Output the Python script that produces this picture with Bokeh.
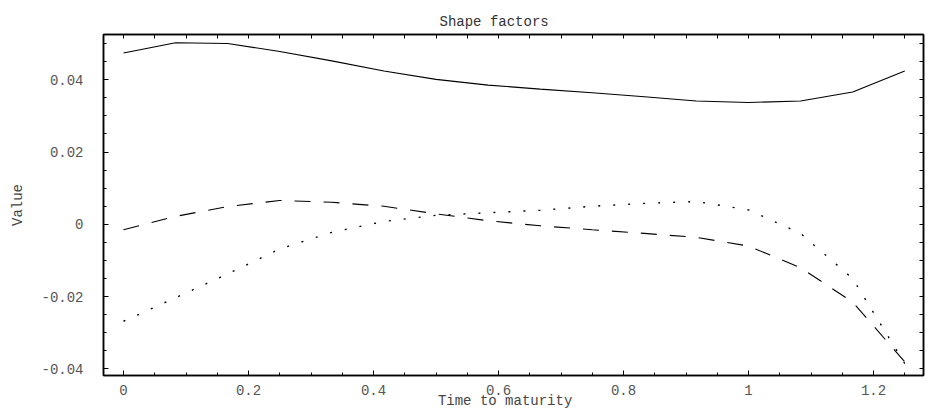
from bokeh.plotting import figure
from bokeh.models import LinearAxis, FixedTicker, Range1d
from bokeh.embed import file_html
from bokeh.resources import INLINE

# ---- data ----
maturity = [0.0, 0.0833, 0.1667, 0.25, 0.3333, 0.4167, 0.5, 0.5833,
            0.6667, 0.75, 0.8333, 0.9167, 1.0, 1.0833, 1.1667, 1.25]
factor_level = [0.0474, 0.0502, 0.0500, 0.0478, 0.0452, 0.0424, 0.0401, 0.0385,
                0.0374, 0.0364, 0.0353, 0.0341, 0.0337, 0.0341, 0.0366, 0.0424]
factor_slope = [-0.0015, 0.0022, 0.0049, 0.0066, 0.0061, 0.0050, 0.0029, 0.0010,
                -0.0004, -0.0015, -0.0025, -0.0036, -0.0060, -0.0120, -0.0215, -0.0380]
factor_curve = [-0.0268, -0.0203, -0.0137, -0.0068, -0.0022, 0.0008, 0.0025, 0.0032,
                0.0039, 0.0050, 0.0058, 0.0063, 0.0040, -0.0025, -0.0150, -0.0385]

x_ticks = [0, 0.2, 0.4, 0.6, 0.8, 1.0, 1.2]
x_tick_labels = ["0", "0.2", "0.4", "0.6", "0.8", "1", "1.2"]
y_ticks = [-0.04, -0.02, 0, 0.02, 0.04]
y_tick_labels = ["-0.04", "-0.02", "0", "0.02", "0.04"]

title_text = "Shape  factors"
x_title = "Time  to  maturity"
y_title = "Value"

FONT = "Liberation Mono"

x_minor = [round(i * 0.05, 2) for i in range(0, 26)]
y_minor = [round(-0.04 + i * 0.005, 3) for i in range(0, 19)]

p = figure(width=927, height=411,
           x_range=Range1d(-0.032, 1.28), y_range=Range1d(-0.0418, 0.0525),
           output_backend="svg", toolbar_location=None,
           min_border_left=103, min_border_right=4, min_border_top=34,
           min_border_bottom=35, title=title_text)

p.title.text_font = FONT
p.title.text_font_size = "14px"
p.title.text_font_style = "normal"
p.title.text_color = "#333333"
p.title.align = "left"
p.title.offset = 336
p.title.standoff = 9

p.grid.visible = False
p.background_fill_color = "white"
p.border_fill_color = "white"
p.outline_line_color = "black"
p.outline_line_width = 1.5


def base_style(ax):
    ax.major_tick_out = 0
    ax.minor_tick_out = 0
    ax.axis_line_color = "black"
    ax.axis_line_width = 1.5
    ax.major_tick_line_color = "black"
    ax.minor_tick_line_color = "black"
    ax.major_label_text_font = FONT
    ax.major_label_text_color = "#555555"
    ax.axis_label_text_font = FONT
    ax.axis_label_text_font_style = "normal"
    ax.axis_label_text_color = "#444444"


def labelled_axis(ax, ticks, minor, labels, size):
    base_style(ax)
    ax.ticker = FixedTicker(ticks=ticks, minor_ticks=minor)
    ax.major_label_overrides = dict(zip(ticks, labels))
    ax.major_tick_in = 5
    ax.minor_tick_in = 3
    ax.major_label_text_font_size = size
    ax.axis_label_text_font_size = size


def mirror_axis(positions, tick_len):
    # tick marks only (no labels): positions drawn as minor ticks
    ax = LinearAxis(ticker=FixedTicker(ticks=[], minor_ticks=positions))
    base_style(ax)
    ax.major_tick_in = 0
    ax.minor_tick_in = tick_len
    ax.major_label_standoff = 0
    return ax


xb = p.xaxis[0]
labelled_axis(xb, x_ticks, x_minor, x_tick_labels, "14px")
xb.axis_label = x_title
xb.major_label_standoff = 9
xb.axis_label_standoff = -5

yl = p.yaxis[0]
labelled_axis(yl, y_ticks, y_minor, y_tick_labels, "14px")
yl.axis_label = y_title
yl.major_label_standoff = 20
yl.axis_label_standoff = 12

p.add_layout(mirror_axis(x_minor, 4), "above")
p.add_layout(mirror_axis(y_minor, 4), "right")

p.line(maturity, factor_level, line_color="black", line_width=1.1)
p.line(maturity, factor_slope, line_color="black", line_width=1.1, line_dash="16 13")
p.line(maturity, factor_curve, line_color="black", line_width=1.4, line_dash="2 13")

open("out.html", "w").write(file_html(p, INLINE))
